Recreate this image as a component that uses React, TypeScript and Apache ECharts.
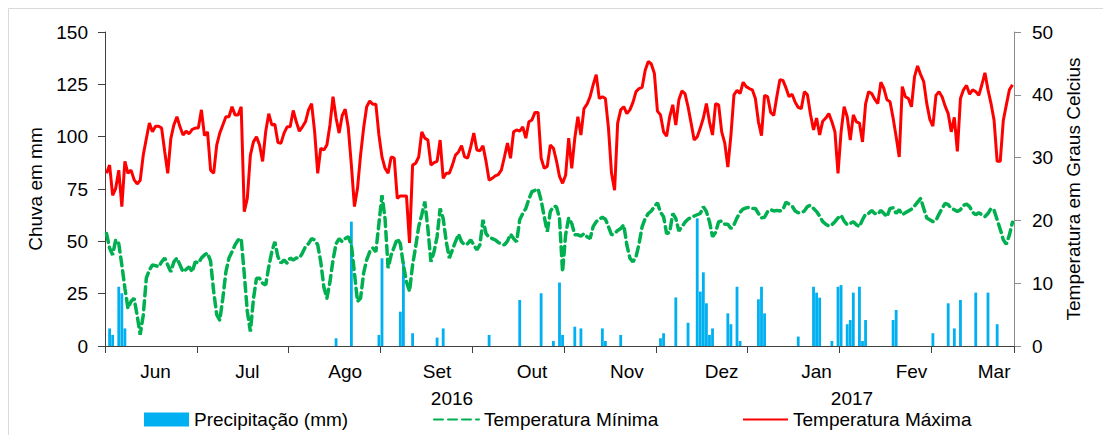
import React, { useEffect, useRef } from "react";
import * as echarts from "echarts";

const FONT = "'Liberation Sans', Arial, Helvetica, sans-serif";

const monthLabels = ["Jun", "Jul", "Ago", "Set", "Out", "Nov", "Dez", "Jan", "Fev", "Mar"];
const monthLabelDays = [16, 46, 78, 108, 139, 170, 201, 232, 263, 290];
const yearLabels = ["2016", "2017"];
const seriesNames = ["Precipitação (mm)", "Temperatura Mínima", "Temperatura Máxima"];

// Rain (mm): day index and value
const rainDays = [
  1, 2, 4, 5, 6,
  75, 80, 89, 90, 96, 97, 100,
  108, 110, 125, 135, 142, 146, 148, 149,
  153, 155, 162, 163, 168, 181, 182, 186, 190, 193, 194, 195, 196, 197, 198,
  203, 204, 206, 207, 213, 214, 215, 226, 231, 232, 233, 237, 239, 240, 242, 243, 244, 246, 247, 248,
  257, 258, 270, 275, 277, 279, 284, 288, 291,
];
const rainValues = [
  8.4, 5.3, 28.3, 25.2, 8.4,
  3.7, 59.4, 5.3, 41.9, 16.4, 40.3, 6.1,
  4, 8.4, 5.3, 22, 25.2, 2.4, 30.3, 5.3,
  9.2, 8.4, 8.4, 2.4, 5.3, 3.7, 6.1, 23.2, 11.1, 61, 26, 35.2, 20.4, 5.3, 8.4,
  15.6, 10.4, 28.3, 2.4, 22.3, 28.3, 15.6, 4.5, 28.3, 25.5, 23.1, 2.4, 28.3, 29.1, 10.4, 12.4, 25.5, 28.3, 2.4, 12.4,
  12.4, 17.2, 6.1, 20.4, 8.4, 22, 25.5, 25.5, 10.4,
];

// Daily maximum temperature (°C)
const tempMax = [
  27.5, 28.8, 24.0, 25.1, 28.0, 22.2, 29.4, 27.5, 28.0, 26.5,
  25.8, 26.4, 30.4, 33.0, 35.5, 34.1, 35.0, 35.0, 34.7, 31.0,
  27.5, 33.0, 35.2, 36.5, 34.9, 33.6, 34.2, 33.8, 34.5, 34.7,
  34.7, 37.6, 33.5, 34.1, 28.0, 27.5, 32.0, 33.9, 35.2, 36.5,
  36.5, 38.1, 36.8, 36.8, 38.1, 21.4, 23.5, 30.4, 32.5, 33.3,
  32.0, 29.4, 34.1, 37.0, 35.2, 35.3, 32.4, 32.3, 33.9, 34.9,
  34.9, 37.5, 35.7, 34.2, 34.9, 35.7, 37.6, 38.6, 34.1, 27.5,
  31.5, 31.2, 32.0, 35.2, 39.7, 36.3, 33.9, 36.7, 37.7, 34.7,
  28.8, 22.2, 25.1, 30.4, 34.7, 38.1, 39.0, 38.5, 38.5, 33.6,
  30.1, 28.3, 27.5, 30.1, 29.9, 23.5, 23.9, 23.9, 23.9, 16.4,
  28.8, 29.1, 30.1, 34.1, 33.1, 32.8, 28.8, 29.2, 29.4, 32.8,
  26.7, 27.5, 27.5, 28.8, 30.4, 30.9, 31.9, 30.1, 29.9, 31.7,
  33.9, 31.2, 31.1, 31.9, 29.4, 26.4, 26.7, 27.1, 27.3, 28.0,
  30.1, 32.3, 29.9, 34.1, 34.4, 34.2, 34.9, 33.1, 35.7, 36.0,
  37.2, 37.2, 29.9, 28.3, 28.6, 32.0, 31.5, 29.5, 27.0, 25.9,
  27.2, 33.1, 28.3, 33.1, 36.5, 33.6, 37.8, 38.5, 39.7, 41.6,
  43.2, 39.4, 39.7, 39.4, 34.7, 27.5, 24.8, 35.5, 37.6, 38.1,
  37.0, 37.6, 38.8, 40.5, 41.0, 41.2, 43.9, 45.3, 44.9, 43.4,
  37.4, 36.8, 34.1, 33.4, 36.5, 38.4, 35.2, 39.2, 40.6, 40.2,
  38.1, 35.5, 32.8, 33.3, 34.7, 36.3, 38.6, 35.7, 33.6, 38.6,
  38.4, 34.1, 32.3, 28.5, 33.5, 40.0, 40.7, 40.2, 42.0, 41.3,
  41.0, 40.8, 39.4, 35.7, 33.5, 39.9, 39.7, 37.2, 36.7, 39.7,
  42.4, 42.3, 41.1, 39.7, 40.1, 38.8, 38.0, 37.8, 40.5, 40.0,
  36.9, 34.4, 36.3, 33.6, 35.8, 36.3, 37.0, 35.7, 34.1, 27.5,
  34.1, 38.1, 36.5, 32.8, 36.8, 35.7, 35.5, 32.5, 38.5, 40.5,
  40.2, 39.3, 38.6, 42.0, 41.0, 39.2, 38.9, 36.3, 33.3, 30.1,
  41.3, 39.7, 39.4, 38.1, 42.9, 44.6, 43.2, 42.1, 38.6, 36.1,
  35.0, 39.9, 40.5, 39.7, 38.2, 37.0, 34.1, 36.4, 31.0, 39.4,
  40.8, 41.5, 40.1, 40.8, 40.5, 39.9, 41.6, 43.5, 40.8, 38.6,
  35.9, 29.4, 29.4, 35.9, 38.4, 40.8, 41.6,
];

// Daily minimum temperature (°C)
const tempMin = [
  17.9, 15.6, 14.5, 16.9, 16.3, 12.9, 9.2, 6.0, 7.1, 7.6,
  4.9, 1.8, 4.9, 10.8, 12.1, 12.9, 12.8, 12.6, 13.4, 14.0,
  12.9, 11.8, 13.4, 14.0, 12.9, 11.8, 12.2, 12.6, 11.8, 13.4,
  13.2, 14.0, 14.5, 14.8, 13.5, 8.7, 5.0, 4.1, 7.6, 11.8,
  14.0, 15.0, 16.1, 16.9, 17.1, 11.5, 5.5, 2.3, 7.5, 10.8,
  10.8, 10.0, 9.7, 12.6, 15.0, 16.6, 14.2, 13.2, 13.7, 13.2,
  14.0, 13.7, 14.0, 14.0, 14.8, 15.8, 16.3, 17.1, 16.9, 16.1,
  13.4, 9.4, 7.6, 10.2, 13.7, 16.3, 17.1, 16.6, 17.1, 17.4,
  16.1, 11.6, 7.1, 7.6, 11.6, 13.7, 15.0, 15.6, 15.0, 19.5,
  24.0, 20.3, 12.4, 14.5, 15.8, 17.1, 16.3, 12.9, 10.2, 8.7,
  12.9, 15.8, 19.0, 20.9, 23.0, 18.7, 13.4, 15.0, 17.4, 21.9,
  20.3, 16.6, 14.0, 15.3, 16.6, 17.8, 16.6, 16.1, 16.3, 16.9,
  16.1, 15.3, 16.1, 20.1, 17.9, 17.3, 17.1, 16.9, 16.5, 16.2,
  16.1, 16.7, 17.8, 17.1, 16.6, 20.1, 21.1, 21.9, 23.4, 24.6,
  24.8, 25.0, 23.2, 20.6, 18.2, 21.4, 22.2, 22.2, 20.3, 11.8,
  17.7, 20.4, 19.5, 17.7, 17.7, 17.5, 17.9, 17.4, 17.1, 19.0,
  19.8, 20.2, 20.5, 20.2, 19.0, 17.7, 17.9, 18.4, 18.7, 19.3,
  16.1, 14.0, 13.4, 14.2, 16.3, 19.0, 20.3, 21.1, 21.5, 22.2,
  22.8, 21.3, 20.6, 17.9, 18.1, 21.1, 20.3, 18.3, 19.0, 19.7,
  20.2, 20.5, 20.7, 20.9, 21.1, 22.2, 21.4, 19.8, 17.4, 18.1,
  19.8, 19.9, 19.4, 19.4, 18.7, 19.3, 20.4, 21.3, 21.8, 22.0,
  22.1, 21.9, 21.9, 21.1, 20.4, 20.5, 21.4, 21.7, 21.5, 21.6,
  21.5, 21.7, 22.9, 22.6, 22.3, 21.5, 21.2, 21.2, 21.5, 22.2,
  22.4, 21.9, 21.4, 20.7, 19.8, 19.4, 19.1, 19.3, 19.8, 20.4,
  20.8, 19.9, 19.3, 19.5, 19.8, 19.3, 19.0, 20.1, 21.0, 21.1,
  21.6, 21.1, 21.0, 21.6, 21.1, 20.6, 21.9, 22.0, 21.1, 21.7,
  20.9, 21.2, 21.5, 21.8, 22.3, 22.9, 23.5, 21.9, 20.4, 20.1,
  19.8, 20.0, 21.0, 21.9, 22.7, 22.5, 21.9, 21.7, 21.4, 21.7,
  22.4, 22.6, 22.2, 21.3, 20.9, 21.2, 20.9, 20.6, 21.1, 21.9,
  21.6, 20.1, 18.6, 16.9, 16.2, 17.7, 19.7,
];

export default function App() {
  const ref = useRef<HTMLDivElement>(null);

  useEffect(() => {
    if (!ref.current) return;
    const chart = echarts.init(ref.current, null, { renderer: "svg" });
    const n = tempMax.length;
    const categories = Array.from({ length: n }, (_, i) => String(i));
    const rain: (number | string)[] = new Array(n).fill("-");
    rainDays.forEach((d, k) => {
      rain[d] = rainValues[k];
    });

    const axisText = { fontSize: 19, color: "#000", fontFamily: FONT };
    const legendBase = {
      orient: "horizontal",
      top: 410,
      itemWidth: 45,
      itemHeight: 14,
      padding: 0,
      itemGap: 0,
      textStyle: { fontSize: 19, color: "#000", fontFamily: FONT },
    };

    chart.setOption({
      animation: false,
      textStyle: { fontFamily: FONT },
      grid: { left: 105, right: 89, top: 32, bottom: 89, containLabel: false },
      xAxis: {
        type: "category",
        data: categories,
        boundaryGap: true,
        axisLine: { show: true, lineStyle: { color: "#404040", width: 1 } },
        axisTick: {
          show: true,
          length: 7,
          interval: (i: number) => i % 30 === 0,
          lineStyle: { color: "#404040" },
        },
        axisLabel: {
          ...axisText,
          margin: 16,
          interval: (i: number) => monthLabelDays.indexOf(i) >= 0,
          formatter: (_v: string, i: number) => {
            const k = monthLabelDays.indexOf(i);
            return k >= 0 ? monthLabels[k] : "";
          },
        },
        splitLine: { show: false },
      },
      yAxis: [
        {
          type: "value",
          min: 0,
          max: 150,
          interval: 25,
          name: "Chuva em mm",
          nameLocation: "middle",
          nameGap: 58,
          nameRotate: 90,
          nameTextStyle: axisText,
          axisLine: { show: true, lineStyle: { color: "#404040" } },
          axisTick: { show: true, length: 7, lineStyle: { color: "#404040" } },
          axisLabel: { ...axisText, margin: 17 },
          splitLine: { show: false },
        },
        {
          type: "value",
          position: "right",
          min: 0,
          max: 50,
          interval: 10,
          name: "Temperatura em Graus Celcius",
          nameLocation: "middle",
          nameGap: 48,
          nameRotate: 90,
          nameTextStyle: axisText,
          axisLine: { show: true, lineStyle: { color: "#8c8c8c" } },
          axisTick: { show: true, length: 7, lineStyle: { color: "#8c8c8c" } },
          axisLabel: { ...axisText, margin: 18 },
          splitLine: { show: false },
        },
      ],
      legend: [
        { ...legendBase, data: [{ name: seriesNames[0], icon: "rect" }], left: 144 },
        { ...legendBase, data: [seriesNames[1]], left: 433, itemStyle: { opacity: 0 } },
        { ...legendBase, data: [seriesNames[2]], left: 742, itemStyle: { opacity: 0 } },
      ],
      series: [
        {
          name: seriesNames[0],
          type: "bar",
          data: rain,
          yAxisIndex: 0,
          barCategoryGap: "8%",
          itemStyle: { color: "#00B0F0" },
          z: 1,
        },
        {
          name: seriesNames[1],
          type: "line",
          data: tempMin,
          yAxisIndex: 1,
          symbol: "none",
          lineStyle: { color: "#00B050", width: 3.5, type: [9, 5], cap: "round" },
          itemStyle: { color: "#00B050" },
          z: 3,
        },
        {
          name: seriesNames[2],
          type: "line",
          data: tempMax,
          yAxisIndex: 1,
          symbol: "none",
          lineStyle: { color: "#FF0000", width: 3 },
          itemStyle: { color: "#FF0000" },
          z: 4,
        },
      ],
      graphic: [
        {
          type: "line",
          shape: { x1: 8.5, y1: 8.5, x2: 8.5, y2: 435 },
          style: { stroke: "#d9d9d9", lineWidth: 1 },
        },
        {
          type: "line",
          shape: { x1: 8.5, y1: 8.5, x2: 1103, y2: 8.5 },
          style: { stroke: "#d9d9d9", lineWidth: 1 },
        },
        {
          type: "text",
          x: 452,
          y: 398,
          style: {
            text: yearLabels[0],
            fontSize: 19,
            fontFamily: FONT,
            fill: "#000",
            align: "center",
            verticalAlign: "middle",
          },
        },
        {
          type: "text",
          x: 852,
          y: 398,
          style: {
            text: yearLabels[1],
            fontSize: 19,
            fontFamily: FONT,
            fill: "#000",
            align: "center",
            verticalAlign: "middle",
          },
        },
      ],
    });

    return () => chart.dispose();
  }, []);

  return (
    <div
      ref={ref}
      style={{ position: "absolute", left: 0, top: 0, width: 1103, height: 435 }}
    />
  );
}
